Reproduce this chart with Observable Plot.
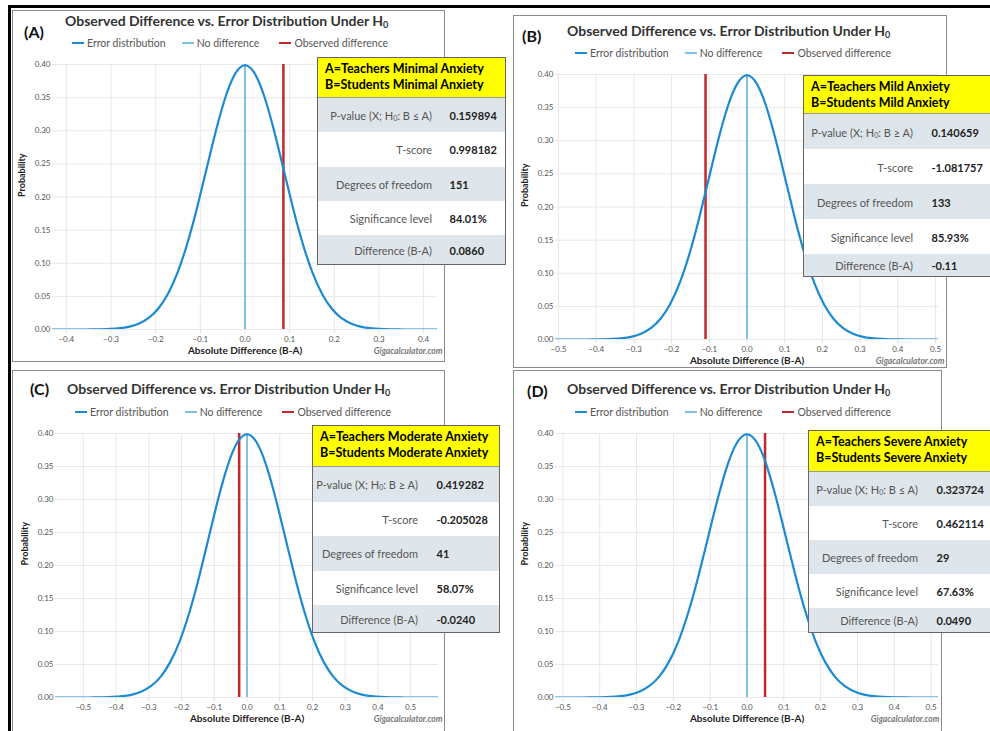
<!DOCTYPE html>
<html><head><meta charset="utf-8">
<script src="https://cdn.jsdelivr.net/npm/d3@7"></script>
<script src="https://cdn.jsdelivr.net/npm/@observablehq/plot@0.6"></script>
<style>
html,body{margin:0;padding:0;background:#fff;}
#root{position:relative;width:990px;height:731px;overflow:hidden;font-family:Lato,"Open Sans",sans-serif;}
.abs{position:absolute;white-space:nowrap;}
sub{font-size:65%;vertical-align:-0.25em;line-height:0;}
</style></head><body><div id="root"></div>
<script>
// ---------- data ----------
const panelLetters = ["(A)", "(B)", "(C)", "(D)"];
const groupA = ["Teachers Minimal Anxiety", "Teachers Mild Anxiety", "Teachers Moderate Anxiety", "Teachers Severe Anxiety"];
const groupB = ["Students Minimal Anxiety", "Students Mild Anxiety", "Students Moderate Anxiety", "Students Severe Anxiety"];
const pHypothesis = ["B ≤ A", "B ≥ A", "B ≥ A", "B ≤ A"];
const pValues = ["0.159894", "0.140659", "0.419282", "0.323724"];
const tScores = ["0.998182", "-1.081757", "-0.205028", "0.462114"];
const degreesOfFreedom = ["151", "133", "41", "29"];
const significance = ["84.01%", "85.93%", "58.07%", "67.63%"];
const differenceLabels = ["0.0860", "-0.11", "-0.0240", "0.0490"];
const differences = [0.0860, -0.11, -0.0240, 0.0490];
const standardErrors = [0.0862, 0.1017, 0.1171, 0.1060];
const xHalfRange = [0.431, 0.508, 0.585, 0.52];
const xTicksAB = [[-0.4, -0.3, -0.2, -0.1, 0, 0.1, 0.2, 0.3, 0.4],
                  [-0.5, -0.4, -0.3, -0.2, -0.1, 0, 0.1, 0.2, 0.3, 0.4, 0.5],
                  [-0.5, -0.4, -0.3, -0.2, -0.1, 0, 0.1, 0.2, 0.3, 0.4, 0.5],
                  [-0.5, -0.4, -0.3, -0.2, -0.1, 0, 0.1, 0.2, 0.3, 0.4, 0.5]];
const yTicks = [0, 0.05, 0.10, 0.15, 0.20, 0.25, 0.30, 0.35, 0.40];
// error distribution curve, in standard-error units (same shape in each panel)
const zGrid = [-5, -4.75, -4.5, -4.25, -4, -3.75, -3.5, -3.25, -3, -2.75, -2.5, -2.25, -2, -1.75, -1.5, -1.25, -1, -0.75, -0.5, -0.25,
               0, 0.25, 0.5, 0.75, 1, 1.25, 1.5, 1.75, 2, 2.25, 2.5, 2.75, 3, 3.25, 3.5, 3.75, 4, 4.25, 4.5, 4.75, 5];
const density = [0.0000, 0.0000, 0.0000, 0.0000, 0.0001, 0.0004, 0.0009, 0.0020, 0.0044, 0.0091, 0.0175, 0.0317, 0.0540, 0.0863, 0.1295, 0.1826, 0.2420, 0.3011, 0.3521, 0.3867,
                 0.3989, 0.3867, 0.3521, 0.3011, 0.2420, 0.1826, 0.1295, 0.0863, 0.0540, 0.0317, 0.0175, 0.0091, 0.0044, 0.0020, 0.0009, 0.0004, 0.0001, 0.0000, 0.0000, 0.0000, 0.0000];
const legendLabels = ["Error distribution", "No difference", "Observed difference"];

// ---------- layout & style ----------
const BLUE = "#1c8ad0", LIGHT = "#7ec3e6", RED = "#c0282d";
const legendColors = [BLUE, LIGHT, RED];
const layout = [
  {box: [12, 10, 445, 362], plot: [52, 437, 64, 329], letter: [24, 32], title: [65, 21], legend: [72, 43], creditDx: 5,
   table: {l: 317, t: 57, w: 189, h: 208, head: 40, row: 34.3, labelR: 116, valueL: 133}},
  {box: [513, 15, 947, 368], plot: [555, 938, 74, 339], letter: [522, 36], title: [567, 31], legend: [575, 53], creditDx: 6,
   table: {l: 803, t: 75, w: 200, h: 202, head: 38, row: 35, labelR: 111, valueL: 129}},
  {box: [12, 370, 445, 735], plot: [55, 438, 433, 697], letter: [30, 389], title: [67, 389], legend: [75, 412], creditDx: 4,
   table: {l: 312, t: 425, w: 188, h: 208, head: 41, row: 34.5, labelR: 107, valueL: 125}},
  {box: [513, 370, 942, 735], plot: [555, 938, 433, 697], letter: [527, 391], title: [567, 389], legend: [575, 412], creditDx: 1,
   table: {l: 808, t: 430, w: 200, h: 203, head: 41, row: 34, labelR: 111, valueL: 129}}
];

const root = document.getElementById("root");
function el(parent, styles, html) {
  const d = document.createElement("div");
  d.className = "abs";
  Object.assign(d.style, styles);
  if (html != null) d.innerHTML = html;
  parent.appendChild(d);
  return d;
}

// outer black frame
el(root, {left: "8px", top: "5px", width: "990px", height: "740px", borderLeft: "3px solid #000", borderTop: "3px solid #000"});

const fmtX = d3.format(".1f"), fmtY = d3.format(".2f");

for (let i = 0; i < 4; i++) {
  const L = layout[i];
  const [bl, bt, br, bb] = L.box;
  const [pl, pr, pt, pb] = L.plot;
  // panel border
  el(root, {left: bl + "px", top: bt + "px", width: (br - bl) + "px", height: (bb - bt) + "px", border: "1.5px solid #8a8a8a", boxSizing: "border-box", background: "#fff"});

  const se = standardErrors[i];
  const curve = zGrid.map((z, k) => ({x: z * se, y: density[k]}));
  const chart = Plot.plot({
    width: br - bl, height: bb - bt,
    marginLeft: pl - bl, marginRight: br - pr, marginTop: pt - bt, marginBottom: bb - pb,
    style: {fontFamily: "Lato, 'Open Sans', sans-serif", fontSize: "8px", background: "transparent", overflow: "hidden"},
    x: {domain: [-xHalfRange[i], xHalfRange[i]]},
    y: {domain: [0, 0.4]},
    marks: [
      Plot.gridX(xTicksAB[i], {stroke: "#e8e8e8", strokeOpacity: 1}),
      Plot.gridY(yTicks, {stroke: "#e8e8e8", strokeOpacity: 1}),
      Plot.axisX(xTicksAB[i], {tickSize: 4, stroke: "#e0e0e0", tickPadding: 3, tickFormat: fmtX, fill: "#555", label: null}),
      Plot.axisY(yTicks, {tickSize: 0, tickPadding: 2, tickFormat: fmtY, fill: "#555", label: null}),
      Plot.ruleX([0], {y1: 0, y2: 0.4, stroke: LIGHT, strokeWidth: 2}),
      Plot.ruleX([differences[i]], {y1: 0, y2: 0.4, stroke: RED, strokeWidth: 2.5}),
      Plot.line(curve, {x: "x", y: "y", stroke: BLUE, strokeWidth: 2.2, curve: "natural", clip: true}),
      Plot.text(["Absolute Difference (B-A)"], {text: d => d, frameAnchor: "bottom", dy: 24, fontWeight: "bold", fontSize: 10, fill: "#222"}),
      Plot.text(["Probability"], {text: d => d, frameAnchor: "left", dx: -30, rotate: -90, fontWeight: "bold", fontSize: 9, fill: "#222"}),
      Plot.text(["Gigacalculator.com"], {text: d => d, frameAnchor: "bottom-right", dx: L.creditDx, dy: 24, textAnchor: "end", fontStyle: "italic", fontWeight: "bold", fontSize: 8.5, fill: "#777"})
    ]
  });
  chart.style.position = "absolute";
  chart.style.left = bl + "px";
  chart.style.top = bt + "px";
  root.appendChild(chart);

  // letter + title
  el(root, {left: L.letter[0] + "px", top: (L.letter[1] - 10) + "px", lineHeight: "20px", fontSize: "16px", fontWeight: "bold", color: "#111"}, panelLetters[i]);
  el(root, {left: L.title[0] + "px", top: (L.title[1] - 9) + "px", lineHeight: "18px", fontSize: "14px", fontWeight: "bold", color: "#333"},
     "Observed Difference vs. Error Distribution Under H<sub>0</sub>");
  // legend
  const lg = el(root, {left: L.legend[0] + "px", top: (L.legend[1] - 7) + "px", lineHeight: "14px", fontSize: "10.5px", color: "#555", display: "flex", alignItems: "center"});
  legendLabels.forEach((t, k) => {
    const item = document.createElement("span");
    item.style.cssText = "display:inline-flex;align-items:center;margin-right:" + (k === 0 ? 16 : 20) + "px";
    item.innerHTML = `<span style="display:inline-block;width:12px;height:2.5px;background:${legendColors[k]};margin-right:3px"></span>${t}`;
    lg.appendChild(item);
  });

  // stats table
  const T = L.table;
  const tb = el(root, {left: T.l + "px", top: T.t + "px", width: T.w + "px", height: T.h + "px", border: "1.5px solid #666", boxSizing: "border-box", background: "#fff", overflow: "hidden", display: "flex", flexDirection: "column"});
  const hd = document.createElement("div");
  hd.style.cssText = `height:${T.head}px;flex:none;background:#ffff00;border-bottom:1px solid #999;box-sizing:border-box;padding:3px 0 0 7px;font-weight:bold;font-size:12.5px;line-height:16px;color:#000;white-space:nowrap`;
  hd.innerHTML = `A=${groupA[i]}<br>B=${groupB[i]}`;
  tb.appendChild(hd);
  const rows = [
    [`P-value (X; H<sub>0</sub>: ${pHypothesis[i]})`, pValues[i]],
    ["T-score", tScores[i]],
    ["Degrees of freedom", degreesOfFreedom[i]],
    ["Significance level", significance[i]],
    ["Difference (B-A)", differenceLabels[i]]
  ];
  rows.forEach((r, k) => {
    const row = document.createElement("div");
    const last = k === rows.length - 1;
    row.style.cssText = `position:relative;${last ? "flex:1" : "flex:none;height:" + T.row + "px"};background:${k % 2 === 0 ? "#dfe6eb" : "#fff"};font-size:11px;white-space:nowrap`;
    row.innerHTML = `<span style="position:absolute;right:${T.w - T.labelR}px;top:50%;transform:translateY(-50%);color:#555">${r[0]}</span>` +
                    `<span style="position:absolute;left:${T.valueL - 1.5}px;top:50%;transform:translateY(-50%);color:#222;font-weight:bold">${r[1]}</span>`;
    tb.appendChild(row);
  });
}
</script>
</body></html>
